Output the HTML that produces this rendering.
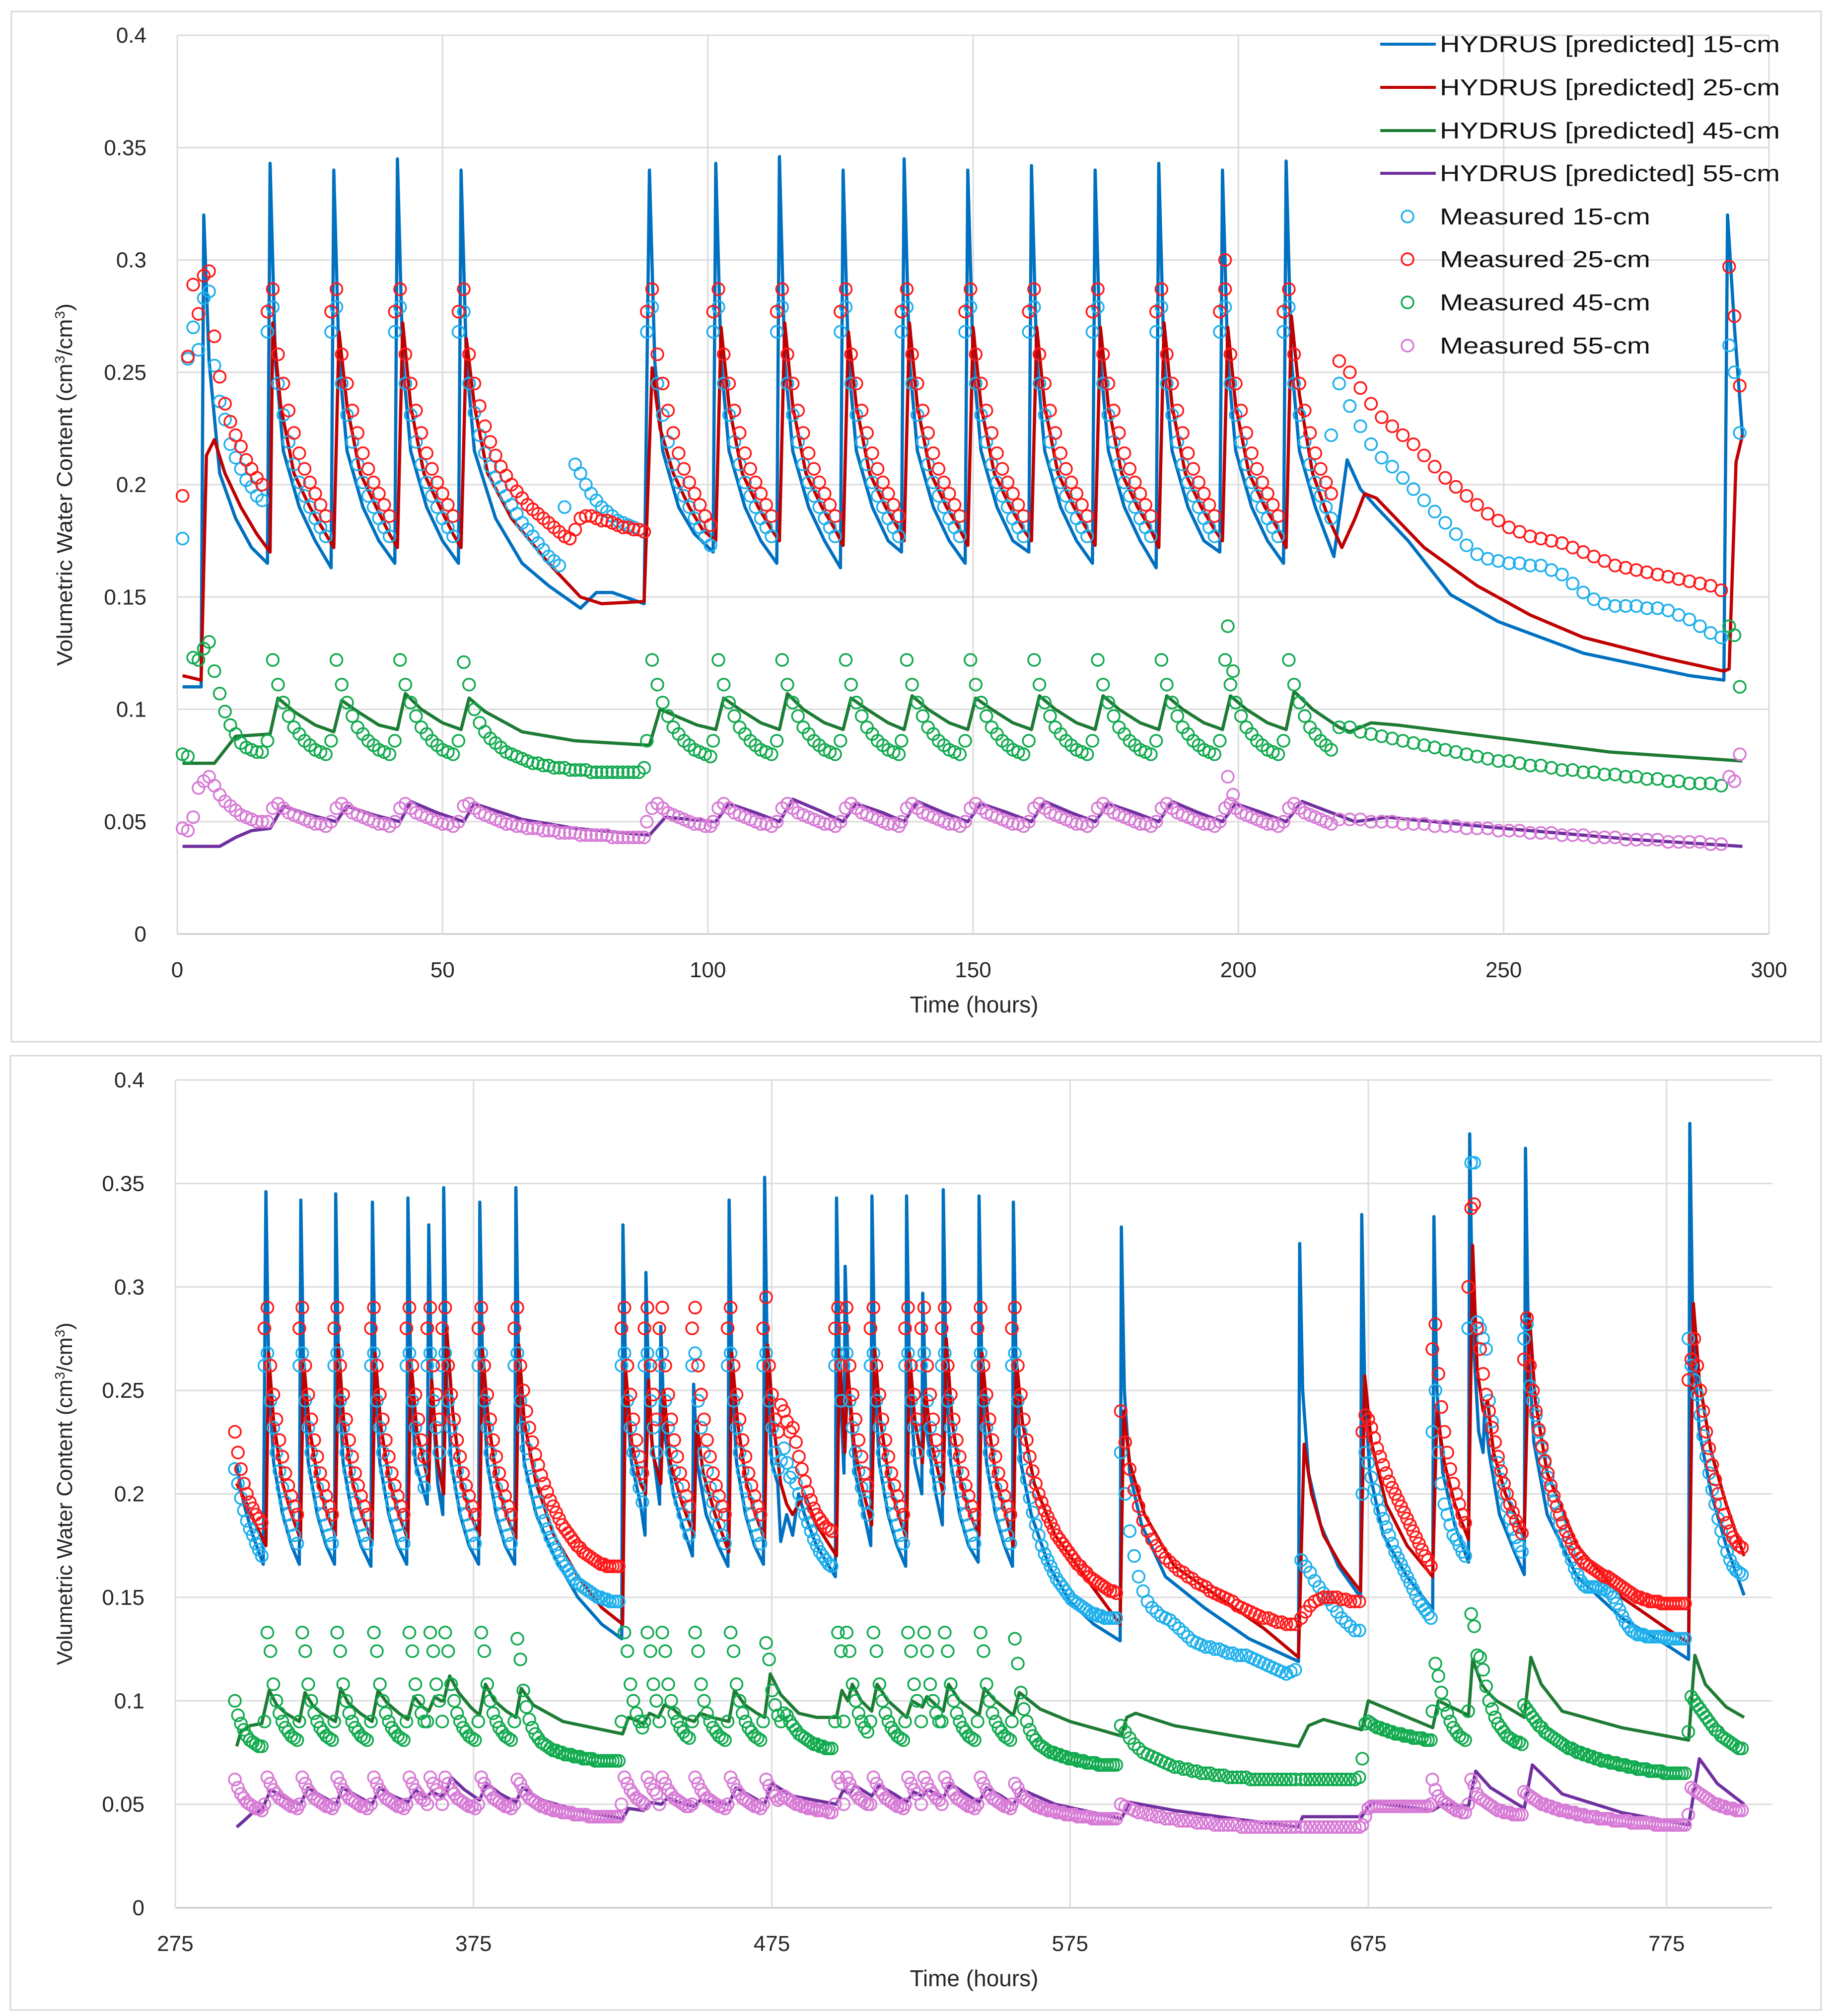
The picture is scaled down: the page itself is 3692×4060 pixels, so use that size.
<!DOCTYPE html>
<html><head><meta charset="utf-8"><title>Volumetric water content</title>
<style>
html,body{margin:0;padding:0;background:#fff;}
svg{display:block;font-family:"Liberation Sans",sans-serif;}
</style></head>
<body>
<svg id="root" width="3692" height="4060" viewBox="0 0 3692 4060" xmlns="http://www.w3.org/2000/svg">
<rect x="0" y="0" width="3692" height="4060" fill="#fff"/>
<rect x="23" y="23" width="3645" height="2075" fill="none" stroke="#d9d9d9" stroke-width="3"/>
<rect x="21" y="2126" width="3647" height="1922" fill="none" stroke="#d9d9d9" stroke-width="3"/>
<g id="top"></g>
<g id="bot"></g>
<g id="legend"></g>
</svg>
<script>
// ---------- shared style ----------
const COL = {l15:"#0070C0", l25:"#C00000", l45:"#1E7B34", l55:"#7030A0", m15:"#1FB0EC", m25:"#FF1A1A", m45:"#12AA4F", m55:"#D77BD6"};

// ---------- TOP CHART DATA (time h, VWC) ----------
const topXTicks = [0,50,100,150,200,250,300];
const yTicks = [0,0.05,0.1,0.15,0.2,0.25,0.3,0.35,0.4];
const yTickLabels = ["0","0.05","0.1","0.15","0.2","0.25","0.3","0.35","0.4"];

const top15 = [1,.110, 4.5,.110, 5,.320, 6,.255, 8,.205, 11,.185, 14,.172, 17,.165,
17.5,.343, 18.5,.255, 20,.215, 23,.190, 26,.175, 29,.163,
29.5,.340, 30.5,.255, 32,.215, 35,.190, 38,.175, 41,.165,
41.5,.345, 42.5,.255, 44,.215, 47,.190, 50,.175, 53,.165,
53.5,.340, 54.5,.255, 56,.215, 60,.185, 65,.165, 70,.155, 76,.145, 79,.152, 82,.152, 88,.147,
89,.340, 90,.255, 91.5,.215, 94.5,.190, 97.5,.178, 101,.170,
101.5,.343, 102.5,.255, 104,.215, 107,.190, 110,.175, 113,.165,
113.5,.346, 114.5,.255, 116,.215, 119,.190, 122,.175, 125,.163,
125.5,.340, 126.5,.255, 128,.215, 131,.190, 134,.175, 136.5,.170,
137,.345, 138,.255, 139.5,.215, 142.5,.190, 145.5,.175, 148.5,.165,
149,.340, 150,.255, 151.5,.215, 154.5,.190, 157.5,.175, 160.5,.170,
161,.342, 162,.255, 163.5,.215, 166.5,.190, 169.5,.175, 172.5,.165,
173,.340, 174,.255, 175.5,.215, 178.5,.190, 181.5,.175, 184.5,.163,
185,.343, 186,.255, 187.5,.215, 190.5,.190, 193.5,.175, 196.5,.170,
197,.340, 198,.255, 199.5,.215, 202.5,.190, 205.5,.175, 208.5,.165,
209,.344, 210,.255, 211.5,.215, 214.5,.190, 218,.168, 220.5,.211, 223,.198, 226,.190, 232,.175, 240,.151, 249,.139, 265,.125, 285,.115, 291.5,.113,
292.2,.320, 293.5,.270, 295,.222];

const top25 = [1,.115, 4.5,.113, 5.5,.213, 7,.220, 9,.205, 12,.190, 15,.178, 17.5,.170,
18,.272, 19.5,.235, 22,.205, 25,.190, 28,.178, 29.5,.172,
30.5,.268, 32,.235, 34.5,.205, 37.5,.190, 40,.178, 41.5,.172,
42.5,.272, 44,.235, 46.5,.205, 49.5,.190, 52,.178, 53.5,.172,
54.5,.265, 56,.235, 58.5,.205, 63,.185, 70,.165, 76,.150, 80,.147, 88,.148,
89.5,.252, 91,.225, 93.5,.205, 96.5,.190, 99,.180, 101.5,.175,
102.5,.270, 104,.235, 106.5,.205, 109.5,.190, 112,.180, 113.5,.175,
114.5,.272, 116,.235, 118.5,.205, 121.5,.190, 124,.180, 125.5,.173,
126.5,.268, 128,.235, 130.5,.205, 133.5,.190, 136,.180, 137,.175,
138,.272, 139.5,.235, 142,.205, 145,.190, 147.5,.180, 149,.173,
150,.270, 151.5,.235, 154,.205, 157,.190, 159.5,.180, 161,.175,
162,.270, 163.5,.235, 166,.205, 169,.190, 171.5,.180, 173,.173,
174,.270, 175.5,.235, 178,.205, 181,.190, 183.5,.180, 185,.172,
186,.272, 187.5,.235, 190,.205, 193,.190, 195.5,.180, 197,.175,
198,.270, 199.5,.235, 202,.205, 205,.190, 207.5,.180, 209,.172,
210,.275, 211.5,.240, 214,.205, 217,.185, 219.5,.172, 222,.185, 223.8,.196, 226,.194, 235,.172, 245,.155, 255,.142, 265,.132, 280,.123, 291.5,.117, 292.5,.118, 293.8,.210, 295,.222];

const top45 = [1,.076, 7,.076, 9,.082, 11,.088, 17.5,.089, 19,.105, 22,.099, 26,.093, 29.5,.090, 31,.104, 34,.099, 38,.093, 41.5,.091, 43,.107, 46,.100, 50,.094, 53.5,.091, 55,.105, 58,.099, 65,.090, 75,.086, 89,.084,
91,.100, 94,.097, 98,.093, 101.5,.091, 103,.105, 106,.100, 110,.094, 113.5,.091, 115,.107, 118,.100, 122,.094, 125.5,.091, 127,.105, 130,.100, 134,.094, 137,.091, 138.5,.106, 141.5,.100, 145.5,.094, 149,.091, 150.5,.105, 153.5,.100, 157.5,.094, 161,.091, 162.5,.106, 165.5,.100, 169.5,.094, 173,.091, 174.5,.106, 177.5,.100, 181.5,.094, 185,.091, 186.5,.106, 189.5,.100, 193.5,.094, 197,.091, 198.5,.106, 201.5,.100, 205.5,.094, 209,.091, 210.5,.108, 214,.100, 219,.092, 221,.090, 225,.094, 230,.093, 250,.087, 270,.081, 295,.077];

const top55 = [1,.039, 8,.039, 11,.043, 14,.046, 17.5,.047, 20,.057, 25,.053, 30,.050, 32,.057, 37,.053, 42,.050, 44,.059, 49,.054, 54,.050, 56,.058, 65,.051, 75,.047, 89,.044, 92,.052, 101.5,.050, 104,.058, 109,.054, 113.5,.050, 116,.060, 121,.055, 125.5,.050, 128,.058, 133,.054, 137,.050, 139.5,.059, 144.5,.054, 149,.050, 151.5,.058, 156.5,.054, 161,.050, 163.5,.059, 168.5,.054, 173,.050, 175.5,.058, 180.5,.054, 185,.050, 187.5,.059, 192.5,.054, 197,.050, 199.5,.058, 204.5,.054, 209,.050, 212,.059, 222,.050, 228,.052, 250,.047, 275,.042, 295,.039];

const topCyc15 = [.268,.279,.245,.231,.219,.209,.201,.195,.190,.185,.181,.177,.173];
const topCyc25 = [.277,.287,.258,.245,.233,.223,.214,.207,.201,.196,.191,.186,.182];
const topCyc45 = [.086,.122,.111,.103,.097,.092,.089,.086,.084,.082,.081,.080,.079];
const topCyc55 = [.050,.056,.058,.056,.054,.053,.052,.051,.050,.049,.049,.048,.048];
const topEvents = [17.5,29.5,41.5,89,101.5,113.5,125.5,137,149,161,173,185,197,209];
const topEventLen = [12,12,12,13,12,12,12,12,12,12,12,12,12,10];

const topM15 = [[1,1,[.176,.256,.270,.260,.283,.286,.253,.237,.229,.218,.212,.207,.202,.199,.195,.193]],
 [53,1,[.268,.277,.245,.232,.222,.214,.208,.203,.199,.195,.191,.187,.183,.180,.177,.174,.171,.168,.166,.164,.190]],
 [75,1,[.209,.205,.200,.196,.193,.190,.188,.186,.184,.183,.182,.181,.180,.179]],
 [217.5,1,[.222]],
 [219,2,[.245,.235,.226,.218,.212,.208,.203,.198,.193,.188,.183,.178,.173,.169,.167,.166,.165,.165,.164,.164,.162,.160,.156,.152,.149,.147,.146,.146,.146,.145,.145,.144,.142,.140,.137,.134,.132]],
 [292.5,1,[.262,.250,.223]]];
const topM25 = [[1,1,[.195,.257,.289,.276,.293,.295,.266,.248,.236,.228,.222,.217,.211,.207,.203,.200]],
 [53,1,[.277,.287,.258,.245,.235,.226,.219,.213,.208,.204,.200,.197,.194,.191,.189,.187,.185,.183,.181,.179,.177,.176]],
 [75,1,[.180,.185,.186,.186,.185,.184,.184,.183,.182,.181,.181,.180,.180,.179]],
 [197.5,1,[.300]],
 [219,2,[.255,.250,.243,.236,.230,.226,.222,.218,.213,.208,.203,.199,.195,.191,.187,.184,.181,.179,.177,.176,.175,.174,.172,.170,.168,.166,.164,.163,.162,.161,.160,.159,.158,.157,.156,.155,.153]],
 [292.5,1,[.297,.275,.244]]];
const topM45 = [[1,1,[.080,.079,.123,.122,.127,.130,.117,.107,.099,.093,.089,.085,.083,.082,.081,.081]],
 [53,1,[.086,.121,.111,.100,.094,.090,.087,.085,.083,.081,.080,.079,.078,.077,.076,.076,.075,.075,.074,.074,.074,.073,.073,.073,.073,.072,.072,.072,.072,.072,.072,.072,.072,.072,.072,.074]],
 [198,1,[.137,.117]],
 [219,2,[.092,.092,.090,.089,.088,.087,.086,.085,.084,.083,.082,.081,.080,.079,.078,.077,.077,.076,.075,.075,.074,.073,.073,.072,.072,.071,.071,.070,.070,.069,.069,.068,.068,.067,.067,.067,.066]],
 [292.5,1,[.137,.133,.110]]];
const topM55 = [[1,1,[.047,.046,.052,.065,.068,.070,.066,.062,.059,.057,.055,.053,.052,.051,.050,.050]],
 [53,1,[.050,.057,.058,.056,.054,.053,.052,.051,.050,.049,.049,.048,.048,.047,.047,.047,.046,.046,.046,.045,.045,.045,.045,.044,.044,.044,.044,.044,.044,.043,.043,.043,.043,.043,.043,.043]],
 [198,1,[.070,.062]],
 [219,2,[.051,.051,.051,.050,.050,.050,.049,.049,.049,.048,.048,.048,.047,.047,.047,.046,.046,.046,.045,.045,.045,.044,.044,.044,.043,.043,.043,.042,.042,.042,.042,.041,.041,.041,.041,.040,.040]],
 [292.5,1,[.070,.068,.080]]];

// ---------- BOTTOM CHART DATA ----------
const botXTicks = [275,375,475,575,675,775];

const bot15 = [295.6,.214, 298,.195, 301,.180, 304.5,.166,
305.4,.346, 306.4,.255, 308,.215, 311,.190, 314,.175, 316.6,.166,
317.1,.342, 318.1,.255, 319.6,.215, 322.6,.190, 325.6,.175, 328.4,.166,
328.8,.345, 329.8,.255, 331.3,.215, 334.3,.190, 337.3,.175, 340.6,.165,
341.1,.341, 342.1,.255, 343.6,.215, 346.6,.190, 349.6,.175, 352.6,.166,
353,.343, 354,.255, 355.5,.215, 359.5,.195, 360,.330, 361,.250, 363,.205, 364.7,.190,
365,.348, 366,.255, 367.5,.215, 370.5,.190, 373.5,.175, 376.7,.166,
377.1,.341, 378.1,.255, 379.6,.215, 382.6,.190, 385.6,.175, 388.8,.166,
389.2,.348, 390.2,.255, 392,.215, 396,.190, 402,.170, 410,.150, 418,.137, 424.7,.130,
425.1,.330, 426.1,.250, 428,.215, 431,.195, 432.5,.180, 432.8,.307, 434,.235, 437.4,.195, 437.8,.281, 439,.230, 442,.200, 445,.185, 448.4,.170,
448.8,.253, 450,.215, 453,.190, 457,.175, 460.3,.165,
460.7,.342, 461.7,.255, 463.2,.215, 466.2,.190, 469.2,.175, 472.2,.166,
472.6,.353, 473.6,.255, 475,.215, 477,.205, 478,.177, 480,.190, 482,.180, 484,.200, 486,.190, 490,.175, 496.3,.160,
496.7,.343, 497.7,.260, 499.2,.210, 499.6,.310, 500.8,.250, 503,.210, 506,.190, 508.2,.175,
508.6,.344, 509.6,.255, 511,.215, 514,.190, 517,.175, 519.9,.165,
520.2,.344, 521.2,.255, 523,.215, 525.3,.200, 525.6,.297, 527,.230, 530,.200, 532.2,.185,
532.5,.347, 533.5,.255, 535,.215, 538,.190, 541,.175, 544.2,.167,
544.5,.344, 545.5,.255, 547,.215, 550,.190, 553,.175, 555.7,.165,
556,.341, 557,.255, 558.5,.215, 562,.190, 568,.165, 575,.148, 583,.137, 591.8,.129,
592.2,.329, 593.2,.250, 595,.210, 599,.185, 607,.160, 620,.145, 635,.130, 651.6,.119,
652,.321, 653,.250, 655,.210, 659,.185, 665,.165, 672.4,.150,
672.8,.335, 673.8,.250, 675.5,.210, 680,.180, 688,.160, 696.6,.144,
697,.334, 698,.250, 700,.210, 704,.185, 708.6,.167,
709,.374, 710,.280, 712,.230, 713.5,.220, 714,.240, 715.5,.220, 719,.190, 724,.172, 727.3,.161,
727.7,.367, 728.7,.270, 730.5,.225, 735,.190, 745,.160, 760,.140, 775,.127, 782.4,.120,
782.8,.379, 783.8,.280, 786,.230, 790,.200, 795,.175, 801,.151];

const bot25 = [295.6,.205, 299,.195, 302,.185, 305.4,.175,
306.3,.268, 308,.235, 311,.205, 314,.190, 317,.178,
318,.265, 320,.232, 323,.205, 326,.190, 328.7,.180,
329.7,.272, 331.5,.235, 334.5,.205, 337.5,.190, 341,.177,
342,.268, 344,.232, 347,.205, 350,.190, 353,.178,
354,.265, 356,.230, 360,.205, 361,.255, 363,.215, 365,.200,
366,.280, 368,.240, 371,.205, 374,.190, 377,.180,
378,.270, 380,.235, 383,.205, 386,.190, 389.2,.178,
390.2,.272, 392,.235, 396,.205, 402,.180, 410,.160, 418,.145, 425,.137,
426,.260, 428,.225, 431,.205, 432.7,.200, 433.7,.255, 435,.220, 437.8,.205, 438.8,.250, 441,.215, 445,.195, 448.9,.180,
449.8,.235, 452,.210, 456,.190, 460.6,.172,
461.6,.268, 463.5,.235, 466.5,.205, 469.5,.190, 472.6,.178,
473.6,.272, 475.5,.235, 478,.205, 480,.195, 482,.190, 486,.200, 490,.185, 496.7,.170,
497.7,.270, 499.5,.220, 500.5,.260, 502.5,.225, 505,.205, 508.5,.185,
509.5,.270, 511.5,.235, 514.5,.205, 517.5,.190, 520.2,.178,
521.2,.268, 523,.235, 525.5,.215, 526.5,.250, 528.5,.225, 532.5,.200,
533.5,.275, 535.5,.235, 538.5,.205, 541.5,.190, 544.5,.180,
545.5,.268, 547.5,.235, 550.5,.205, 553.5,.190, 556,.175,
557,.265, 559,.235, 563,.205, 570,.180, 580,.160, 591.8,.137,
593,.240, 595,.215, 600,.190, 610,.165, 625,.150, 640,.135, 651.6,.121,
653.5,.224, 656,.200, 660,.180, 666,.165, 672.4,.153,
673.8,.257, 676,.225, 681,.195, 688,.175, 696.6,.160,
698,.240, 700.5,.215, 704,.195, 708.6,.178,
710,.320, 711.5,.260, 713.5,.240, 715,.245, 717,.220, 721,.200, 727.3,.180,
729,.287, 731,.245, 735,.210, 745,.175, 760,.150, 775,.135, 782.4,.128,
784,.292, 786,.255, 790,.220, 795,.195, 801,.170];

const bot45 = [295.6,.078, 297,.085, 300,.088, 304,.089, 306.5,.105, 309,.098, 312,.094, 316.6,.090,
318.5,.104, 321,.098, 324,.094, 328.7,.090, 330.5,.106, 333,.099, 337,.094, 341,.090,
343,.105, 346,.099, 350,.094, 353,.091, 355,.102, 358,.097, 360,.095, 362,.102, 364,.100, 365,.100, 367,.112, 370,.104, 374,.097, 377,.093, 379,.108, 382,.100, 386,.095, 389.2,.092,
391,.106, 395,.098, 405,.090, 415,.087, 425,.084, 427,.092, 432,.089, 434,.094, 437,.092, 439,.098, 442,.096, 445,.092, 449,.090, 451,.094, 455,.092, 460.6,.090,
462.5,.105, 466,.098, 470,.094, 472.6,.092, 474.5,.113, 478,.103, 484,.094, 490,.092, 496.7,.092,
498.5,.105, 500.5,.100, 502,.108, 505,.100, 508.5,.095, 510.3,.108, 514,.100, 520.2,.092, 522,.100, 525.5,.097, 527,.102, 530,.098, 532.5,.095, 534.3,.108, 538,.100, 544.5,.093, 546.3,.106, 550,.100, 556,.093,
558,.104, 565,.096, 575,.090, 585,.086, 592.2,.083, 594,.092, 597,.094, 610,.088, 630,.083, 651.6,.078, 655,.088, 660,.091, 672.8,.086, 675,.100, 680,.097, 696.6,.087, 698.5,.100, 708.6,.093, 710,.120, 713,.108, 714.5,.105, 718,.100, 727.3,.092, 729.5,.121, 733,.108, 740,.095, 760,.087, 782.4,.081, 784.5,.122, 788,.108, 795,.097, 801,.092];

const bot55 = [295.6,.039, 298,.042, 301,.046, 304,.047, 307,.057, 312,.053, 317,.050, 319.5,.058, 324,.054, 329,.050, 331,.058, 336,.054, 341,.050, 343.5,.058, 348,.054, 353,.051, 355.5,.057, 359,.053, 361,.056, 364,.054, 365.5,.055, 367.5,.063, 372,.057, 377,.052, 379.5,.060, 384,.055, 389.2,.051,
391.5,.058, 398,.052, 410,.047, 425,.043, 427,.048, 432,.047, 434,.051, 438,.050, 440,.053, 446,.050, 449,.049, 451,.052, 460.6,.050, 463,.058, 468,.054, 472.6,.050, 475,.060, 482,.054, 496.7,.050, 499,.057, 501,.055, 503,.059, 508.5,.054, 511,.059, 516,.055, 520.2,.051, 522.5,.056, 525.5,.054, 527.5,.057, 532.5,.053, 535,.060, 540,.055, 544.5,.051, 547,.058, 552,.054, 556,.050,
559,.057, 570,.050, 592.2,.043, 595,.051, 610,.047, 630,.043, 651.6,.039, 653,.044, 672.8,.044, 676,.051, 696.6,.047, 700,.050, 708.6,.049, 711,.066, 716,.058, 727.3,.048, 730,.069, 740,.055, 760,.046, 782.4,.040, 786,.072, 792,.060, 801,.050];

const botCyc15 = [.262,.268,.245,.232,.220,.211,.203,.196,.190,.185,.180,.176,.172];
const botCyc25 = [.280,.290,.262,.248,.236,.226,.218,.210,.204,.199,.194,.190,.186];
const botCyc45 = [.090,.133,.124,.108,.100,.094,.090,.087,.085,.083,.082,.081,.080];
const botCyc55 = [.050,.063,.060,.057,.055,.053,.052,.051,.050,.049,.049,.048,.048];
const botEvents = [305.4,317.1,328.8,341.1,353,360,365,377.1,425.1,432.8,437.8,448.8,460.7,496.7,499.6,508.6,520.2,525.6,532.5,544.5];
const botEventLen = [12,12,12,12,7,5,12,12,8,5,11,12,12,3,9,12,5,7,12,12];

const botM15 = [[295,1,[.212,.205,.198,.192,.187,.183,.180,.176,.173,.170]],
 [388.7,1,[.262,.268,.245,.232,.222,.214,.207,.201,.196,.191,.187,.183,.179,.176,.173,.170,.167,.165,.163,.161,.159,.157,.156,.155,.154,.153,.152,.151,.150,.150,.149,.149,.148,.148,.148,.148]],
 [472.1,1,[.262,.268,.245,.232,.220,.212,.216,.222,.215,.208,.210,.205,.200,.195,.190,.186,.182,.178,.175,.172,.170,.168,.166,.165]],
 [555.5,1,[.262,.268,.245,.230,.217,.207,.198,.191,.185,.180,.175,.171,.168,.165,.162,.159,.157,.155,.153,.151,.149,.148,.147,.146,.145,.144,.143,.142,.142,.141,.141,.140,.140,.140,.140,.140]],
 [592,1.5,[.220,.200,.182,.170,.160,.153,.148,.145,.143,.141,.140,.139,.137,.135,.133,.131,.129,.128,.127,.126,.126,.125,.125,.124,.123,.123,.122,.122,.122,.121,.120,.119,.118,.117,.116,.115,.114,.113,.114,.115]],
 [652.5,1.5,[.168,.165,.162,.158,.155,.152,.149,.146,.143,.140,.138,.136,.134,.134]],
 [673,1,[.200,.220,.215,.208,.202,.197,.192,.188,.184,.180,.176,.172,.169,.166,.163,.160,.157,.154,.151,.148,.146,.144,.142,.140]],
 [696.5,1,[.230,.250,.220,.205,.195,.190,.185,.180,.178,.175,.172,.170]],
 [708.5,1,[.280,.360,.360,.283,.280,.275,.270,.245,.235,.225,.215,.207,.200,.194,.188,.183,.179,.175,.172]],
 [727.2,1,[.275,.282,.252,.245,.238,.230,.222,.215,.208,.202,.196,.190,.185,.180,.176,.172,.168,.164,.161,.158,.156,.155,.155,.155,.155,.155,.154,.154,.153,.152,.150,.147,.144,.141,.138,.136,.134,.133,.132,.132,.132,.131,.131,.131,.131,.131,.131,.131,.130,.130,.130,.130,.130,.130,.130]],
 [782.3,1,[.275,.262,.255,.248,.238,.228,.218,.210,.202,.195,.188,.182,.177,.172,.168,.165,.163,.162,.161]]];
const botM25 = [[295,1,[.230,.220,.212,.205,.200,.196,.193,.190,.188,.186]],
 [388.7,1,[.280,.290,.262,.250,.240,.232,.225,.219,.214,.209,.205,.201,.197,.194,.191,.188,.185,.183,.181,.179,.177,.175,.174,.172,.171,.170,.169,.168,.167,.166,.166,.165,.165,.165,.165,.165]],
 [472.1,1,[.280,.295,.262,.248,.236,.230,.243,.240,.235,.230,.232,.225,.218,.212,.206,.201,.197,.193,.190,.188,.186,.184,.183,.182]],
 [555.5,1,[.280,.290,.262,.248,.236,.226,.218,.211,.205,.200,.196,.192,.189,.186,.183,.180,.178,.176,.174,.172,.170,.168,.166,.165,.163,.162,.160,.159,.158,.157,.156,.155,.154,.153,.153,.152]],
 [592,1.5,[.240,.225,.212,.202,.194,.187,.182,.178,.175,.172,.169,.167,.165,.163,.162,.160,.159,.157,.156,.155,.153,.152,.151,.150,.149,.148,.146,.145,.144,.143,.142,.141,.140,.140,.139,.138,.138,.137,.137,.137]],
 [652.5,1.5,[.140,.143,.146,.148,.149,.150,.150,.150,.150,.149,.149,.148,.148,.148]],
 [673,1,[.230,.238,.236,.232,.227,.222,.218,.214,.210,.206,.203,.200,.197,.194,.191,.188,.185,.182,.179,.176,.173,.170,.168,.165]],
 [696.5,1,[.270,.282,.258,.242,.230,.220,.212,.205,.200,.195,.190,.186]],
 [708.5,1,[.300,.338,.340,.280,.270,.258,.248,.240,.232,.225,.218,.211,.205,.200,.195,.191,.187,.184,.181]],
 [727.2,1,[.265,.285,.262,.250,.240,.231,.223,.216,.210,.204,.199,.194,.190,.186,.182,.179,.176,.173,.171,.169,.167,.166,.165,.164,.163,.162,.161,.160,.160,.159,.158,.157,.156,.155,.154,.153,.152,.151,.150,.150,.149,.149,.148,.148,.148,.148,.147,.147,.147,.147,.147,.147,.147,.147,.147]],
 [782.3,1,[.255,.265,.275,.262,.250,.240,.230,.222,.214,.207,.200,.195,.190,.186,.182,.179,.177,.175,.174]]];
const botM45 = [[295,1,[.100,.093,.089,.086,.083,.081,.080,.079,.078,.078]],
 [388.7,1,[.090,.130,.120,.105,.097,.091,.087,.084,.082,.080,.079,.078,.077,.076,.076,.075,.075,.074,.074,.074,.073,.073,.073,.072,.072,.072,.072,.071,.071,.071,.071,.071,.071,.071,.071,.071]],
 [472.1,1,[.090,.128,.120,.105,.098,.093,.090,.094,.093,.090,.088,.086,.084,.083,.082,.081,.080,.079,.079,.078,.078,.077,.077,.077]],
 [555.5,1,[.090,.130,.118,.104,.096,.090,.086,.083,.081,.079,.078,.077,.076,.075,.075,.074,.074,.073,.073,.072,.072,.072,.071,.071,.071,.070,.070,.070,.070,.069,.069,.069,.069,.069,.069,.069]],
 [592,1.5,[.088,.085,.082,.079,.077,.075,.074,.073,.072,.071,.070,.069,.068,.068,.067,.067,.066,.066,.065,.065,.065,.064,.064,.064,.063,.063,.063,.063,.063,.062,.062,.062,.062,.062,.062,.062,.062,.062,.062,.062]],
 [652.5,1.5,[.062,.062,.062,.062,.062,.062,.062,.062,.062,.062,.062,.062,.062,.063]],
 [673,1,[.072,.089,.090,.089,.088,.087,.087,.086,.086,.085,.085,.084,.084,.084,.083,.083,.083,.082,.082,.082,.082,.081,.081,.081]],
 [696.5,1,[.095,.118,.112,.104,.098,.094,.090,.087,.085,.083,.082,.081]],
 [708.5,1,[.095,.142,.136,.122,.121,.115,.107,.100,.096,.092,.089,.087,.085,.083,.082,.081,.080,.080,.079]],
 [727.2,1,[.098,.096,.094,.092,.090,.088,.087,.085,.084,.083,.082,.081,.080,.079,.078,.077,.077,.076,.075,.075,.074,.074,.073,.073,.072,.072,.071,.071,.071,.070,.070,.070,.069,.069,.069,.068,.068,.068,.067,.067,.067,.067,.066,.066,.066,.066,.066,.065,.065,.065,.065,.065,.065,.065,.065]],
 [782.3,1,[.085,.102,.100,.098,.096,.094,.092,.090,.088,.086,.085,.083,.082,.081,.080,.079,.078,.077,.077]]];
const botM55 = [[295,1,[.062,.058,.055,.053,.051,.050,.049,.048,.048,.047]],
 [388.7,1,[.050,.062,.060,.057,.055,.053,.052,.051,.050,.049,.049,.048,.048,.047,.047,.047,.046,.046,.046,.046,.045,.045,.045,.045,.045,.044,.044,.044,.044,.044,.044,.044,.044,.044,.044,.044]],
 [472.1,1,[.050,.062,.059,.056,.054,.052,.053,.054,.053,.052,.051,.050,.050,.049,.049,.048,.048,.048,.047,.047,.047,.047,.046,.046]],
 [555.5,1,[.050,.060,.058,.055,.053,.052,.051,.050,.049,.049,.048,.048,.047,.047,.047,.046,.046,.046,.045,.045,.045,.045,.044,.044,.044,.044,.044,.043,.043,.043,.043,.043,.043,.043,.043,.043]],
 [592,1.5,[.050,.049,.048,.047,.046,.046,.045,.045,.044,.044,.043,.043,.043,.042,.042,.042,.042,.041,.041,.041,.041,.040,.040,.040,.040,.040,.040,.039,.039,.039,.039,.039,.039,.039,.039,.039,.039,.039,.039,.039]],
 [652.5,1.5,[.039,.039,.039,.039,.039,.039,.039,.039,.039,.039,.039,.039,.039,.039]],
 [673,1,[.040,.044,.048,.049,.049,.049,.049,.049,.049,.049,.049,.049,.049,.049,.049,.049,.049,.049,.049,.049,.049,.049,.049,.050]],
 [696.5,1,[.062,.057,.054,.052,.051,.050,.049,.048,.047,.047,.046,.046]],
 [708.5,1,[.050,.062,.059,.055,.053,.052,.051,.050,.049,.048,.047,.047,.046,.046,.046,.045,.045,.045,.045]],
 [727.2,1,[.056,.055,.054,.053,.052,.051,.050,.050,.049,.049,.048,.048,.047,.047,.047,.046,.046,.046,.045,.045,.045,.044,.044,.044,.044,.043,.043,.043,.043,.043,.042,.042,.042,.042,.042,.042,.041,.041,.041,.041,.041,.041,.041,.041,.040,.040,.040,.040,.040,.040,.040,.040,.040,.040,.040]],
 [782.3,1,[.045,.058,.057,.056,.055,.054,.053,.052,.051,.050,.050,.049,.049,.048,.048,.048,.047,.047,.047]]];

const legendLabels = ["HYDRUS [predicted] 15-cm","HYDRUS [predicted] 25-cm","HYDRUS [predicted] 45-cm","HYDRUS [predicted] 55-cm","Measured 15-cm","Measured 25-cm","Measured 45-cm","Measured 55-cm"];

// ---------- drawing ----------
const NS = "http://www.w3.org/2000/svg";
function mk(tag, parent, attrs){ const e=document.createElementNS(NS,tag); for(const k in attrs) e.setAttribute(k,attrs[k]); parent.appendChild(e); return e; }

function addCycles(runs, events, lens, cyc){
  const out = runs.slice();
  events.forEach((e,i)=>{ out.push([e-0.5,1,cyc.slice(0,lens[i])]); });
  return out;
}

function drawChart(g, cfg){
  const sx = t => cfg.x0 + (t - cfg.t0) / (cfg.t1 - cfg.t0) * (cfg.x1 - cfg.x0);
  const sy = v => cfg.yb - v / 0.4 * (cfg.yb - cfg.yt);
  yTicks.forEach((v,i)=>{
    const y = sy(v);
    const gl = mk("line", g, {x1:cfg.x0, x2:cfg.x1, y1:y, y2:y, stroke: i===0?"#c8c8c8":"#dcdcdc", "stroke-width":3});
    
    
    const tl = mk("text", g, {x:cfg.x0-62, y:y+15, "text-anchor":"end", "font-size":44, fill:"#262626"});
    tl.textContent = yTickLabels[i];
    
    
  });
  cfg.xTicks.forEach(t=>{
    const x = sx(t);
    const gl = mk("line", g, {x1:x, x2:x, y1:cfg.yt, y2:cfg.yb, stroke:"#dcdcdc", "stroke-width":3});
    
    
    const tl = mk("text", g, {x:x, y:cfg.yb+87, "text-anchor":"middle", "font-size":44, fill:"#262626"});
    tl.textContent = String(t);
    
    
  });
  if(cfg.rightEdge){
    const re = mk("line", g, {x1:cfg.x1, x2:cfg.x1, y1:cfg.yt, y2:cfg.yb, stroke:"#dcdcdc", "stroke-width":3});
    
    
  }
  const xt = mk("text", g, {x:1962, y:cfg.yb+158, "text-anchor":"middle", "font-size":46, fill:"#262626"});
  xt.textContent = "Time (hours)";
  
  
  const cy = (cfg.yt + cfg.yb)/2 + cfg.titleShift;
  const yt = mk("text", g, {x:0, y:0, "text-anchor":"middle", "font-size":44, fill:"#262626", transform:`translate(145 ${cy}) rotate(-90)`, textLength: cfg.titleLen, lengthAdjust:"spacingAndGlyphs"});
  yt.innerHTML = 'Volumetric Water Content (cm<tspan baseline-shift="super" font-size="28">3</tspan>/cm<tspan baseline-shift="super" font-size="28">3</tspan>)';
  
  
  const lineDefs = [[cfg.l15,COL.l15,'line-15cm'],[cfg.l25,COL.l25,'line-25cm'],[cfg.l45,COL.l45,'line-45cm'],[cfg.l55,COL.l55,'line-55cm']];
  lineDefs.forEach(([arr,col,name])=>{
    let d = "";
    for(let i=0;i<arr.length;i+=2){ d += (i===0?"M":"L") + sx(arr[i]).toFixed(1) + "," + sy(arr[i+1]).toFixed(1); }
    const p = mk("path", g, {d:d, fill:"none", stroke:col, "stroke-width":6.5, "stroke-linejoin":"round"});
    
    
  });
  const mDefs = [[cfg.m15,COL.m15,'measured-15cm'],[cfg.m25,COL.m25,'measured-25cm'],[cfg.m45,COL.m45,'measured-45cm'],[cfg.m55,COL.m55,'measured-55cm']];
  mDefs.forEach(([runs,col,name])=>{
    const mg = mk("g", g, {fill:"none", stroke:col, "stroke-width":3.5});
    
    
    runs.forEach(([t0,step,vals])=>{
      vals.forEach((v,k)=>{
        const c = mk("circle", mg, {cx:sx(t0+k*step).toFixed(1), cy:sy(v).toFixed(1), r:12});
        
        
      });
    });
  });
}

drawChart(document.getElementById("top"), {
  t0:0, t1:300, x0:357, x1:3563, yt:71, yb:1881, xTicks:topXTicks, rightEdge:true, titleShift:0, titleLen:730,
  l15:top15, l25:top25, l45:top45, l55:top55,
  m15:addCycles(topM15, topEvents, topEventLen, topCyc15),
  m25:addCycles(topM25, topEvents, topEventLen, topCyc25),
  m45:addCycles(topM45, topEvents, topEventLen, topCyc45),
  m55:addCycles(topM55, topEvents, topEventLen, topCyc55)
});
drawChart(document.getElementById("bot"), {
  t0:275, t1:810.5, x0:353, x1:3570, yt:2175, yb:3842, xTicks:botXTicks, rightEdge:false, titleShift:0, titleLen:690,
  l15:bot15, l25:bot25, l45:bot45, l55:bot55,
  m15:addCycles(botM15, botEvents, botEventLen, botCyc15),
  m25:addCycles(botM25, botEvents, botEventLen, botCyc25),
  m45:addCycles(botM45, botEvents, botEventLen, botCyc45),
  m55:addCycles(botM55, botEvents, botEventLen, botCyc55)
});

// legend (no background, as in reference)
const lg = document.getElementById("legend");
const legCols = [COL.l15,COL.l25,COL.l45,COL.l55,COL.m15,COL.m25,COL.m45,COL.m55];
const legRowY = [89,176,263,349,436,522,609,696];
legendLabels.forEach((lab,i)=>{
  const y = legRowY[i];
  const eg = mk("g", lg, {});
  
  
  if(i<4){
    const ln = mk("line", eg, {x1:2780, x2:2892, y1:y, y2:y, stroke:legCols[i], "stroke-width":6});
    
    
  } else {
    const c = mk("circle", eg, {cx:2835, cy:y, r:12, fill:"none", stroke:legCols[i], "stroke-width":3.5});
    
    
  }
  const t = mk("text", eg, {x:2900, y:y+16, "font-size":46, fill:"#111", textLength: i<4?685:424, lengthAdjust:"spacingAndGlyphs"});
  t.textContent = lab;
  
  
});
</script>
</body></html>
